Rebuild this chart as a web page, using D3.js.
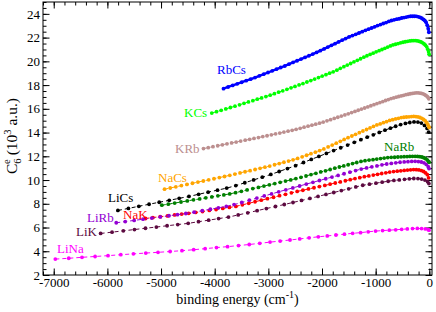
<!DOCTYPE html>
<html>
<head>
<meta charset="utf-8">
<script src="https://cdn.jsdelivr.net/npm/d3@7"></script>
<style>
  body { margin: 0; background: #fff; }
  svg { display: block; }
  svg text { font-family: "Liberation Serif", "DejaVu Serif", "Times New Roman", serif; }
</style>
</head>
<body>
<svg id="chart" width="436" height="312"></svg>
<script>
// tick values
const xTicks = [-7000, -6000, -5000, -4000, -3000, -2000, -1000, 0];
const xMinor = d3.range(-7200, 1, 200);
const yTicks = [2, 4, 6, 8, 10, 12, 14, 16, 18, 20, 22, 24];
const yMinor = d3.range(2, 25.01, 0.5);

// [binding energy (cm^-1), C6 (10^3 a.u.)] for each vibrational level
const liNa = [[-6970,3.34],[-6720,3.41],[-6473,3.49],[-6229,3.56],[-5988,3.63],[-5750,3.71],[-5515,3.78],[-5284,3.85],[-5056,3.91],[-4831,3.98],[-4610,4.05],[-4392,4.13],[-4178,4.22],[-3967,4.31],[-3760,4.39],[-3556,4.48],[-3356,4.57],[-3160,4.67],[-2968,4.77],[-2780,4.86],[-2596,4.95],[-2416,5.04],[-2240,5.13],[-2069,5.22],[-1902,5.29],[-1740,5.37],[-1582,5.44],[-1429,5.51],[-1281,5.57],[-1139,5.64],[-1002,5.70],[-871,5.74],[-746,5.78],[-627,5.81],[-515,5.85],[-410,5.88],[-313,5.91],[-224,5.92],[-144,5.91],[-75,5.88],[-20,5.82],[-5,5.78]];

const liK = [[-6126,5.50],[-5913,5.61],[-5703,5.72],[-5495,5.83],[-5290,5.94],[-5087,6.04],[-4887,6.15],[-4689,6.25],[-4494,6.35],[-4302,6.49],[-4113,6.62],[-3927,6.75],[-3743,6.88],[-3562,7.06],[-3384,7.24],[-3209,7.42],[-3037,7.60],[-2868,7.77],[-2703,7.94],[-2541,8.11],[-2382,8.28],[-2226,8.45],[-2074,8.62],[-1926,8.79],[-1781,8.95],[-1640,9.11],[-1503,9.26],[-1370,9.42],[-1241,9.56],[-1116,9.65],[-995,9.74],[-879,9.82],[-767,9.90],[-660,9.97],[-559,10.01],[-463,10.06],[-373,10.10],[-289,10.13],[-212,10.12],[-143,10.08],[-82,10.00],[-31,9.86],[-8,9.70]];

const liCs = [[-5804,7.44],[-5608,7.61],[-5414,7.79],[-5223,7.96],[-5034,8.13],[-4847,8.29],[-4662,8.46],[-4480,8.62],[-4300,8.80],[-4123,8.98],[-3948,9.15],[-3776,9.32],[-3606,9.53],[-3439,9.77],[-3275,10.01],[-3113,10.24],[-2954,10.47],[-2798,10.72],[-2644,10.97],[-2493,11.21],[-2345,11.48],[-2200,11.74],[-2058,11.99],[-1919,12.24],[-1784,12.48],[-1652,12.72],[-1523,12.95],[-1398,13.18],[-1276,13.40],[-1158,13.61],[-1044,13.81],[-933,14.01],[-827,14.20],[-725,14.37],[-627,14.53],[-534,14.67],[-446,14.77],[-363,14.85],[-285,14.90],[-213,14.88],[-148,14.80],[-90,14.60],[-41,14.35],[-12,14.04]];

const liRb = [[-5835,6.40],[-5667,6.50],[-5501,6.60],[-5336,6.70],[-5173,6.80],[-5012,6.89],[-4852,6.99],[-4694,7.08],[-4538,7.18],[-4384,7.29],[-4231,7.42],[-4080,7.54],[-3931,7.66],[-3784,7.78],[-3639,7.93],[-3496,8.11],[-3354,8.30],[-3214,8.48],[-3076,8.66],[-2940,8.83],[-2806,9.01],[-2674,9.18],[-2544,9.34],[-2417,9.50],[-2292,9.66],[-2169,9.81],[-2048,9.96],[-1930,10.11],[-1814,10.25],[-1700,10.39],[-1589,10.53],[-1480,10.66],[-1374,10.80],[-1270,10.92],[-1169,11.02],[-1071,11.11],[-976,11.19],[-883,11.28],[-794,11.35],[-708,11.40],[-625,11.45],[-545,11.50],[-469,11.53],[-397,11.55],[-328,11.57],[-264,11.58],[-204,11.56],[-149,11.52],[-100,11.45],[-57,11.32],[-21,11.12],[-6,10.97]];

const naK = [[-5289,6.76],[-5152,6.84],[-5016,6.91],[-4881,6.98],[-4748,7.06],[-4616,7.13],[-4485,7.20],[-4355,7.27],[-4227,7.35],[-4100,7.44],[-3974,7.52],[-3850,7.61],[-3727,7.69],[-3605,7.78],[-3485,7.91],[-3366,8.04],[-3248,8.17],[-3132,8.30],[-3017,8.43],[-2903,8.55],[-2791,8.68],[-2680,8.80],[-2571,8.92],[-2463,9.04],[-2357,9.14],[-2252,9.25],[-2149,9.35],[-2048,9.45],[-1948,9.55],[-1850,9.65],[-1753,9.75],[-1658,9.84],[-1565,9.94],[-1474,10.03],[-1385,10.12],[-1297,10.20],[-1211,10.28],[-1127,10.35],[-1045,10.42],[-965,10.48],[-887,10.55],[-811,10.61],[-738,10.67],[-667,10.71],[-598,10.75],[-532,10.78],[-468,10.81],[-407,10.84],[-349,10.86],[-294,10.88],[-242,10.87],[-193,10.85],[-148,10.80],[-106,10.72],[-69,10.60],[-37,10.45],[-13,10.18]];

const naRb = [[-4985,7.88],[-4865,7.97],[-4746,8.06],[-4628,8.15],[-4511,8.24],[-4395,8.33],[-4280,8.41],[-4166,8.50],[-4053,8.58],[-3941,8.67],[-3830,8.75],[-3720,8.83],[-3611,8.94],[-3503,9.05],[-3396,9.17],[-3290,9.28],[-3186,9.38],[-3083,9.49],[-2981,9.60],[-2880,9.70],[-2780,9.81],[-2681,9.91],[-2583,10.01],[-2487,10.12],[-2392,10.23],[-2298,10.34],[-2205,10.46],[-2114,10.57],[-2024,10.68],[-1935,10.78],[-1848,10.89],[-1762,11.00],[-1677,11.10],[-1594,11.19],[-1512,11.29],[-1431,11.39],[-1352,11.48],[-1274,11.57],[-1198,11.63],[-1123,11.68],[-1050,11.72],[-979,11.77],[-909,11.81],[-841,11.85],[-775,11.89],[-710,11.91],[-647,11.92],[-586,11.94],[-527,11.96],[-470,11.97],[-415,11.98],[-363,11.99],[-313,12.00],[-265,12.00],[-220,11.99],[-178,11.97],[-138,11.94],[-102,11.88],[-69,11.80],[-40,11.70],[-16,11.58],[-4,11.50]];

const naCs = [[-4935,9.23],[-4829,9.33],[-4724,9.43],[-4620,9.53],[-4517,9.63],[-4415,9.73],[-4313,9.83],[-4212,9.92],[-4112,10.02],[-4013,10.11],[-3914,10.21],[-3816,10.30],[-3719,10.40],[-3623,10.50],[-3528,10.60],[-3434,10.70],[-3340,10.79],[-3247,10.89],[-3155,10.99],[-3064,11.08],[-2974,11.18],[-2885,11.29],[-2797,11.39],[-2710,11.50],[-2624,11.60],[-2539,11.70],[-2454,11.82],[-2370,11.96],[-2287,12.09],[-2205,12.22],[-2124,12.35],[-2044,12.48],[-1965,12.62],[-1887,12.79],[-1810,12.95],[-1734,13.11],[-1660,13.26],[-1587,13.42],[-1515,13.57],[-1444,13.71],[-1374,13.85],[-1305,13.99],[-1237,14.13],[-1170,14.26],[-1105,14.39],[-1041,14.52],[-978,14.64],[-916,14.73],[-856,14.83],[-797,14.92],[-740,15.02],[-684,15.09],[-629,15.15],[-576,15.20],[-524,15.26],[-474,15.29],[-426,15.31],[-379,15.33],[-334,15.35],[-291,15.36],[-250,15.35],[-211,15.32],[-174,15.27],[-139,15.20],[-107,15.10],[-78,15.00],[-52,14.85],[-29,14.70],[-12,14.52],[-3,14.42]];

const kRb = [[-4209,12.65],[-4120,12.73],[-4032,12.81],[-3944,12.89],[-3857,12.97],[-3771,13.05],[-3685,13.13],[-3600,13.20],[-3516,13.28],[-3432,13.36],[-3349,13.43],[-3267,13.51],[-3185,13.58],[-3104,13.66],[-3024,13.73],[-2944,13.81],[-2865,13.89],[-2787,13.96],[-2710,14.04],[-2633,14.12],[-2557,14.19],[-2482,14.27],[-2408,14.36],[-2334,14.45],[-2261,14.54],[-2189,14.62],[-2118,14.71],[-2047,14.79],[-1977,14.88],[-1908,14.99],[-1840,15.09],[-1773,15.19],[-1706,15.29],[-1640,15.39],[-1575,15.49],[-1511,15.58],[-1448,15.68],[-1386,15.78],[-1325,15.88],[-1265,15.98],[-1206,16.07],[-1147,16.16],[-1089,16.26],[-1032,16.35],[-976,16.44],[-921,16.53],[-867,16.61],[-815,16.70],[-764,16.78],[-714,16.86],[-665,16.92],[-617,16.98],[-570,17.04],[-524,17.09],[-480,17.14],[-437,17.19],[-395,17.23],[-355,17.27],[-316,17.30],[-279,17.33],[-243,17.35],[-209,17.35],[-176,17.33],[-145,17.30],[-116,17.26],[-89,17.20],[-64,17.13],[-42,17.05],[-23,16.96],[-9,16.85]];

const kCs = [[-4054,15.64],[-3966,15.76],[-3879,15.87],[-3793,15.99],[-3707,16.11],[-3622,16.22],[-3538,16.34],[-3454,16.46],[-3371,16.58],[-3289,16.69],[-3207,16.81],[-3126,16.92],[-3046,17.03],[-2966,17.15],[-2887,17.28],[-2809,17.40],[-2731,17.52],[-2654,17.64],[-2578,17.77],[-2503,17.89],[-2428,18.01],[-2354,18.13],[-2281,18.26],[-2209,18.38],[-2137,18.51],[-2066,18.63],[-1996,18.76],[-1927,18.88],[-1859,19.00],[-1791,19.12],[-1724,19.26],[-1658,19.41],[-1593,19.55],[-1529,19.69],[-1466,19.82],[-1404,19.96],[-1342,20.09],[-1281,20.22],[-1221,20.35],[-1162,20.47],[-1104,20.58],[-1047,20.69],[-991,20.80],[-936,20.90],[-882,21.00],[-829,21.10],[-777,21.20],[-726,21.30],[-677,21.38],[-629,21.44],[-582,21.50],[-536,21.56],[-491,21.61],[-448,21.65],[-406,21.69],[-365,21.72],[-326,21.74],[-288,21.75],[-252,21.75],[-217,21.72],[-184,21.68],[-153,21.63],[-124,21.56],[-97,21.47],[-72,21.36],[-49,21.22],[-29,21.02],[-13,20.80],[-4,20.60]];

const rbCs = [[-3836,17.70],[-3750,17.84],[-3665,17.97],[-3580,18.11],[-3496,18.24],[-3413,18.37],[-3330,18.50],[-3248,18.63],[-3167,18.78],[-3086,18.92],[-3006,19.06],[-2927,19.20],[-2848,19.34],[-2770,19.48],[-2693,19.61],[-2616,19.76],[-2540,19.91],[-2465,20.05],[-2391,20.19],[-2317,20.33],[-2244,20.47],[-2172,20.61],[-2101,20.75],[-2031,20.90],[-1961,21.05],[-1892,21.20],[-1824,21.35],[-1757,21.49],[-1691,21.64],[-1625,21.78],[-1560,21.92],[-1496,22.06],[-1433,22.17],[-1371,22.28],[-1310,22.39],[-1250,22.50],[-1191,22.61],[-1133,22.71],[-1076,22.81],[-1020,22.91],[-965,23.01],[-911,23.10],[-858,23.19],[-806,23.27],[-755,23.36],[-705,23.44],[-656,23.50],[-608,23.55],[-561,23.59],[-516,23.65],[-472,23.69],[-429,23.73],[-388,23.77],[-348,23.80],[-309,23.80],[-272,23.80],[-236,23.79],[-202,23.75],[-170,23.70],[-140,23.63],[-111,23.53],[-85,23.44],[-61,23.30],[-39,23.05],[-20,22.75],[-8,22.45]];

const series = [
  { name: "LiNa", color: "#ff00ff", data: liNa },
  { name: "LiK",  color: "#5c0a40", data: liK },
  { name: "NaK",  color: "#ff0000", data: naK },
  { name: "LiRb", color: "#9400d3", data: liRb },
  { name: "NaRb", color: "#008000", data: naRb },
  { name: "LiCs", color: "#000000", data: liCs },
  { name: "NaCs", color: "#ffa500", data: naCs },
  { name: "KRb",  color: "#bc8f8f", data: kRb },
  { name: "KCs",  color: "#00ff00", data: kCs },
  { name: "RbCs", color: "#0000ff", data: rbCs, solid: true }
];

// label placement (px, left edge / baseline)
const labelPos = {
  RbCs: [217, 74], KCs: [184, 117], KRb: [175, 153], NaCs: [158, 182],
  LiCs: [108, 202], NaRb: [384, 151], LiRb: [87, 222], NaK: [123, 219],
  LiK: [76, 236], LiNa: [57, 253]
};

const width = 436, height = 312;
const margin = { top: 2, right: 4, bottom: 37, left: 43 };

const svg = d3.select("#chart");

const x = d3.scaleLinear()
  .domain([-7200, 50])
  .range([margin.left, width - margin.right]);

const y = d3.scaleLinear()
  .domain([2, 25])
  .range([height - margin.bottom, margin.top]);

const x0 = margin.left, x1 = width - margin.right;
const y0 = height - margin.bottom, y1 = margin.top;

// axes (ticks pointing inwards on all four sides)
function styleAxis(g) {
  g.select(".domain").remove();
  g.selectAll("line").attr("stroke", "#000");
  g.selectAll("text").attr("font-size", 13).attr("fill", "#000");
}

svg.append("g").attr("transform", `translate(0,${y0})`)
  .call(d3.axisBottom(x).tickValues(xMinor).tickSize(-3.5).tickFormat(""))
  .call(styleAxis);
svg.append("g").attr("transform", `translate(0,${y0})`)
  .call(d3.axisBottom(x).tickValues(xTicks).tickSize(-6.5).tickPadding(3).tickFormat(d => String(d)))
  .call(styleAxis);
svg.append("g").attr("transform", `translate(0,${y1})`)
  .call(d3.axisTop(x).tickValues(xMinor).tickSize(-3.5).tickFormat(""))
  .call(styleAxis);
svg.append("g").attr("transform", `translate(0,${y1})`)
  .call(d3.axisTop(x).tickValues(xTicks).tickSize(-6.5).tickFormat(""))
  .call(styleAxis);

svg.append("g").attr("transform", `translate(${x0},0)`)
  .call(d3.axisLeft(y).tickValues(yMinor).tickSize(-3.5).tickFormat(""))
  .call(styleAxis);
svg.append("g").attr("transform", `translate(${x0},0)`)
  .call(d3.axisLeft(y).tickValues(yTicks).tickSize(-6.5).tickPadding(3).tickFormat(d => String(d)))
  .call(styleAxis);
svg.append("g").attr("transform", `translate(${x1},0)`)
  .call(d3.axisRight(y).tickValues(yMinor).tickSize(-3.5).tickFormat(""))
  .call(styleAxis);
svg.append("g").attr("transform", `translate(${x1},0)`)
  .call(d3.axisRight(y).tickValues(yTicks).tickSize(-6.5).tickFormat(""))
  .call(styleAxis);

svg.append("rect")
  .attr("x", x0).attr("y", y1)
  .attr("width", x1 - x0).attr("height", y0 - y1)
  .attr("fill", "none").attr("stroke", "#000").attr("stroke-width", 1);

// series
const line = d3.line()
  .x(d => x(d[0]))
  .y(d => y(d[1]));

series.forEach(s => {
  const g = svg.append("g");
  g.append("path")
    .datum(s.data)
    .attr("fill", "none")
    .attr("stroke", s.color)
    .attr("stroke-width", s.solid ? 2.4 : 1)
    .attr("stroke-dasharray", s.solid ? null : "4,3")
    .attr("d", line);
  g.selectAll("circle")
    .data(s.data)
    .join("circle")
    .attr("cx", d => x(d[0]))
    .attr("cy", d => y(d[1]))
    .attr("r", 1.9)
    .attr("fill", s.color);
});

// series labels
series.forEach(s => {
  const p = labelPos[s.name];
  svg.append("text")
    .attr("x", p[0]).attr("y", p[1])
    .attr("font-size", 13)
    .attr("fill", s.color)
    .text(s.name);
});

// axis titles
const xt = svg.append("text")
  .attr("x", (x0 + x1) / 2).attr("y", 304)
  .attr("text-anchor", "middle")
  .attr("font-size", 14);
xt.append("tspan").text("binding energy (cm");
xt.append("tspan").attr("font-size", 10).attr("dy", -6).text("-1");
xt.append("tspan").attr("dy", 6).text(")");

const yt = svg.append("text")
  .attr("transform", "translate(17,136) rotate(-90)")
  .attr("text-anchor", "middle")
  .attr("font-size", 15.5);
yt.append("tspan").text("C");
yt.append("tspan").attr("font-size", 10.5).attr("dy", 4).text("6");
yt.append("tspan").attr("font-size", 10.5).attr("dx", -5.5).attr("dy", -11).text("e");
yt.append("tspan").attr("dy", 7).text(" (10");
yt.append("tspan").attr("font-size", 10.5).attr("dy", -6).text("3");
yt.append("tspan").attr("dy", 6).text(" a.u.)");
</script>
</body>
</html>
